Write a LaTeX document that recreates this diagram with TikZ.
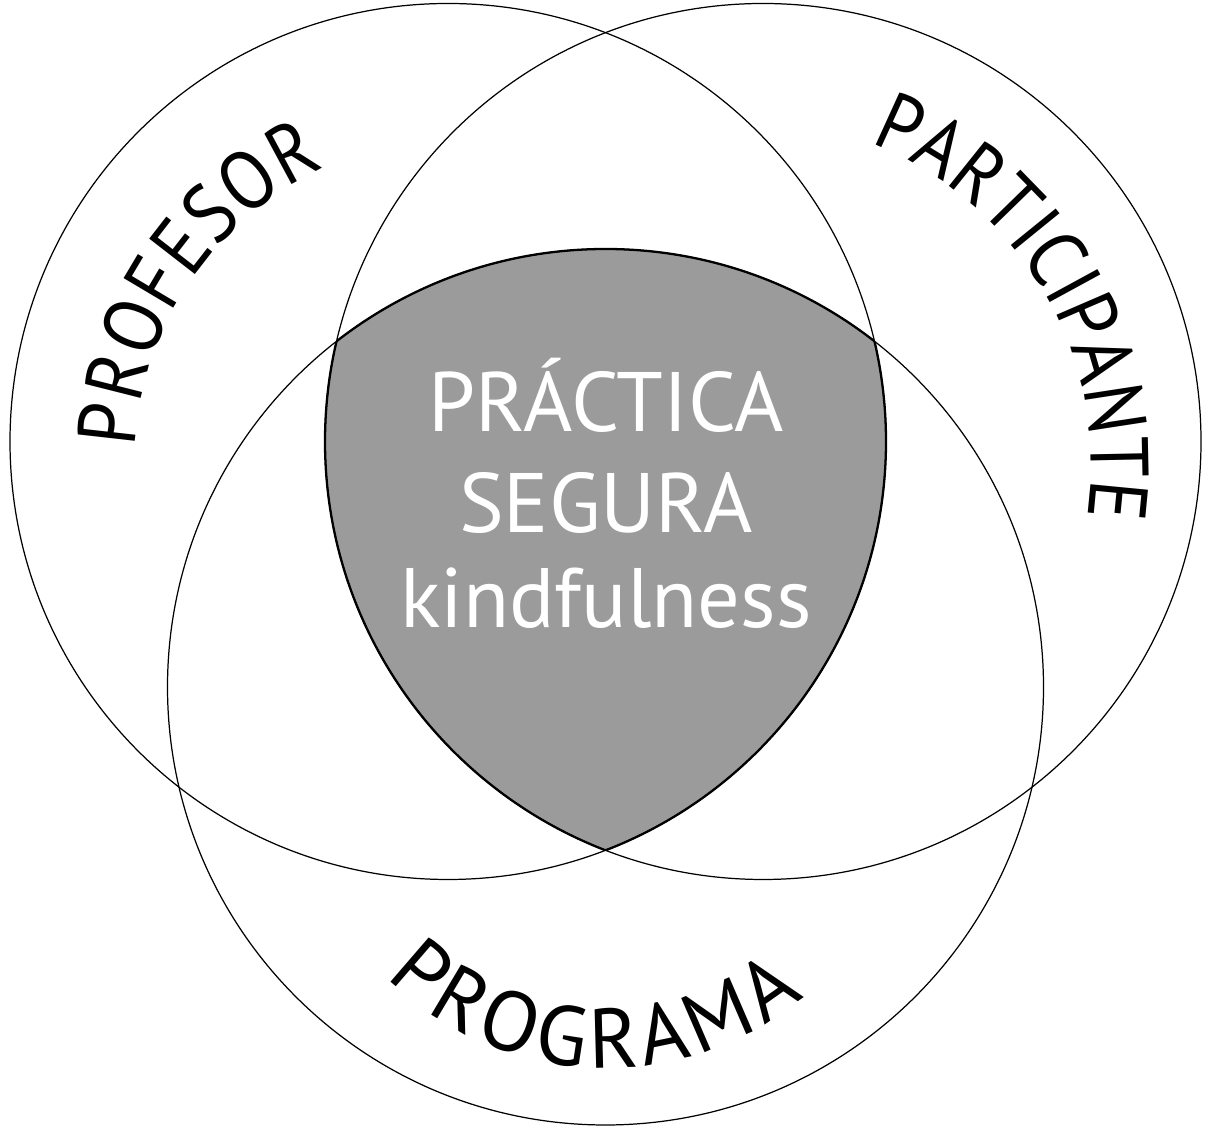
\documentclass[tikz,border=0pt]{standalone}
\usepackage{fontspec}
\setmainfont{PT Sans}
\newfontfamily\narrowfam{PT Sans}[FakeStretch=0.89]
\usetikzlibrary{decorations.text}
\definecolor{coregray}{HTML}{9B9B9B}
\newcommand{\curvefont}{\fontsize{48}{58}\selectfont}
\newcommand{\narrowfont}{\narrowfam\fontsize{47}{58}\selectfont}
\begin{document}
\begin{tikzpicture}[x=0.02cm,y=0.02cm,
  ring/.style={line width=0.7pt},
  coreline/.style={line width=1.3pt},
  coretext/.style={text=white, font=\fontsize{48}{58}\selectfont, anchor=base, inner sep=0pt},
  arctext/.style={decorate, decoration={text along path, text align=fit to path, text={|\curvefont|#1}}},
  narrowarctext/.style={decorate, decoration={text along path, text align=fit to path, text={|\narrowfont|#1}}}
]
\useasboundingbox (0,0) rectangle (1214,1132);
\coordinate (cL) at (448,690.5);
\coordinate (cR) at (763,690.5);
\coordinate (cB) at (605.5,445);
% core fill
\begin{scope}
  \clip (cL) circle[radius=438];
  \clip (cR) circle[radius=438];
  \fill[coregray] (cB) circle[radius=438];
\end{scope}
% circles
\draw[ring] (cL) circle[radius=438];
\draw[ring] (cR) circle[radius=438];
\draw[ring] (cB) circle[radius=438];
% thick outline of core
\begin{scope}
  \clip (cR) circle[radius=438];
  \clip (cB) circle[radius=438];
  \draw[coreline] (cL) circle[radius=438];
\end{scope}
\begin{scope}
  \clip (cL) circle[radius=438];
  \clip (cB) circle[radius=438];
  \draw[coreline] (cR) circle[radius=438];
\end{scope}
\begin{scope}
  \clip (cL) circle[radius=438];
  \clip (cR) circle[radius=438];
  \draw[coreline] (cB) circle[radius=438];
\end{scope}
% centre text
\node[coretext] (t1) at (606,700) {PRÁCTICA};
\node[coretext] (t2) at (606,599) {SEGURA};
\node[coretext] (t3) at (606,504) {kindfulness};
% curved labels
\coordinate (pL) at (460,669);
\coordinate (pR) at (746,667);
\coordinate (pB) at (606,375);
\path[narrowarctext=PROFESOR] (pL) ++(177.2:325) arc[start angle=177.2, end angle=114.5, radius=325];
\path[narrowarctext=PARTICIPANTE] (pR) ++(68.9:345) arc[start angle=68.9, end angle=-8.7, radius=345];
\path[arctext=PROGRAMA] (pB) ++(-135.1:311) arc[start angle=-135.1, end angle=-50.4, radius=311];
\end{tikzpicture}
\end{document}
